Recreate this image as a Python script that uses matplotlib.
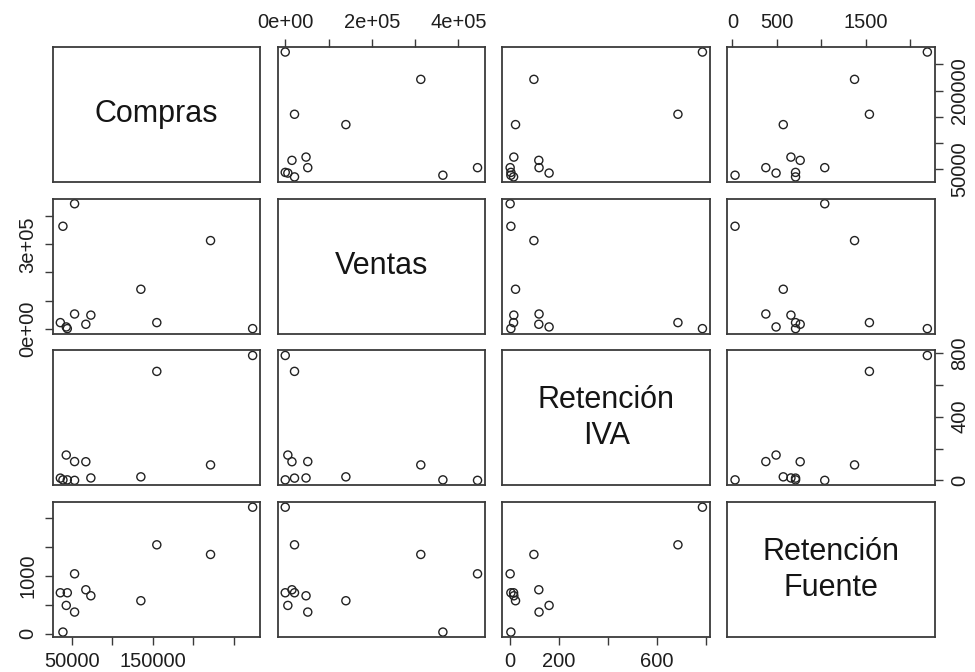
import numpy as np
import matplotlib
matplotlib.use("Agg")
import matplotlib.pyplot as plt

plt.rcParams["font.family"] = ["Liberation Sans", "DejaVu Sans"]

compras = [273300, 154900, 221300, 135200, 73400, 67200,
           53300, 53300, 43000, 44300, 35700, 38900]
ventas = [0, 21400, 313000, 140000, 48000, 15500,
          52000, 444000, 6000, 0, 21400, 364000]
ret_iva = [785, 685, 97, 22, 15, 117, 118, 0, 159, 3, 14, 3]
ret_fuente = [2190, 1539, 1372, 571, 657, 761, 375, 1037, 490, 709, 709, 29]

labels = ["Compras", "Ventas", "Retención\nIVA", "Retención\nFuente"]
series = [compras, ventas, ret_iva, ret_fuente]

# axis ticks per variable, and which of them carry a label
ticks = [
    [50000, 100000, 150000, 200000, 250000],
    [0, 100000, 200000, 300000, 400000],
    [0, 200, 400, 600, 800],
    [0, 500, 1000, 1500, 2000],
]
bottom_labels = {0: ["50000", "", "150000", "", ""],
                 2: ["0", "200", "", "600", ""]}
top_labels = {1: ["0e+00", "", "2e+05", "", "4e+05"],
              3: ["0", "500", "", "1500", ""]}
left_labels = {1: ["0e+00", "", "", "3e+05", ""],
               3: ["0", "", "1000", "", ""]}
right_labels = {0: ["50000", "", "", "200000", ""],
                2: ["0", "", "400", "", "800"]}

EDGE = "#3a3a3a"

fig, axes = plt.subplots(4, 4, figsize=(9.75, 6.72), dpi=100,
                         gridspec_kw=dict(left=0.054, right=0.959, top=0.930,
                                          bottom=0.052, wspace=0.083, hspace=0.125))


def padded(vals):
    lo, hi = min(vals), max(vals)
    r = hi - lo
    return lo - 0.04 * r, hi + 0.04 * r


n = len(series)
for i in range(n):
    for j in range(n):
        ax = axes[i, j]
        for sp in ax.spines.values():
            sp.set_color(EDGE)
            sp.set_linewidth(1.3)
        ax.tick_params(which="both", bottom=False, top=False, left=False, right=False,
                       labelbottom=False, labeltop=False, labelleft=False, labelright=False,
                       length=5.5, width=1, pad=5.5, color=EDGE, labelsize=14.5,
                       labelcolor="#1e1e1e")
        ax.set_xlim(padded(series[j]))
        ax.set_ylim(padded(series[i]))
        if i == j:
            ax.text(0.5, 0.5, labels[i], transform=ax.transAxes, ha="center", va="center",
                    fontsize=22, color="#151515", linespacing=1.25)
            ax.set_xticks([])
            ax.set_yticks([])
            continue
        ax.scatter(series[j], series[i], s=34, facecolors="none",
                   edgecolors="#222222", linewidths=1.0)
        ax.set_xticks(ticks[j])
        ax.set_yticks(ticks[i])

        if i == n - 1 and j in bottom_labels:
            ax.tick_params(bottom=True, labelbottom=True)
            ax.set_xticklabels(bottom_labels[j])
        if i == 0 and j in top_labels:
            ax.tick_params(top=True, labeltop=True)
            ax.set_xticklabels(top_labels[j])
        if j == 0 and i in left_labels:
            ax.tick_params(left=True, labelleft=True)
            ax.set_yticklabels(left_labels[i], rotation=90, va="center")
        if j == n - 1 and i in right_labels:
            ax.tick_params(right=True, labelright=True)
            ax.set_yticklabels(right_labels[i], rotation=90, va="center")

fig.savefig("out.png", dpi=100, facecolor="white")
